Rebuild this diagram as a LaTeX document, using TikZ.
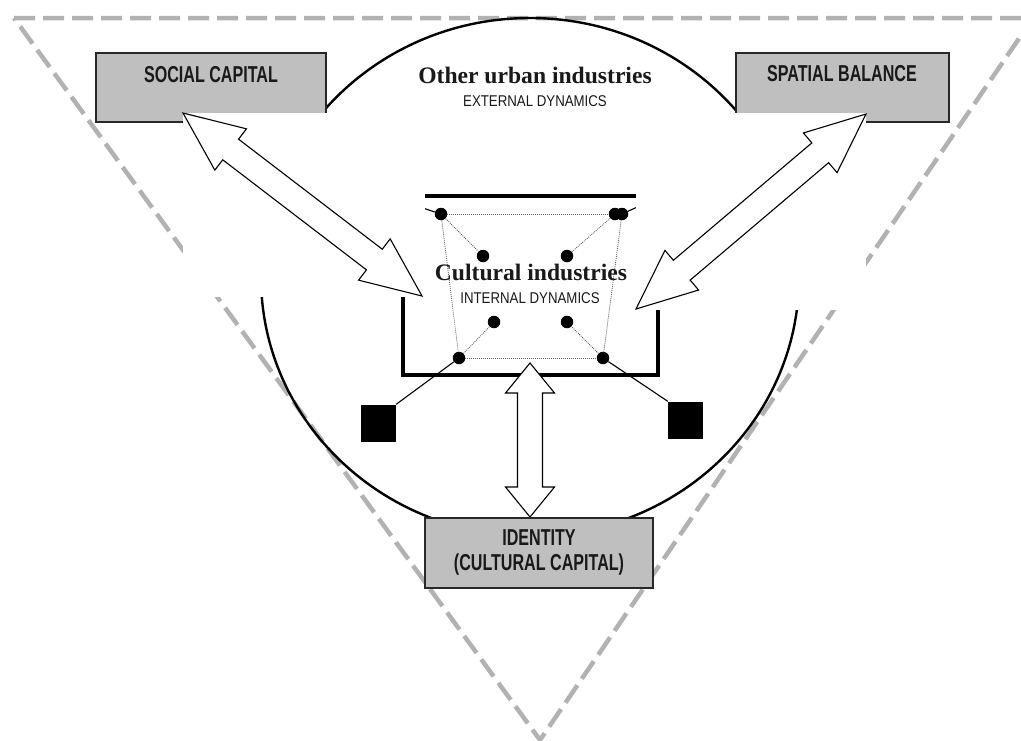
\documentclass[tikz,border=0pt]{standalone}
\usepackage{fontspec}
\setmainfont{Liberation Serif}
\newfontfamily\labelfont[FakeStretch=0.70]{Liberation Sans}
\newfontfamily\dynfont[FakeStretch=0.85]{Liberation Sans}
\usetikzlibrary{calc}
\definecolor{triGray}{RGB}{178,178,178}
\definecolor{boxGray}{RGB}{191,191,191}
\definecolor{boxBorder}{RGB}{40,40,40}
\definecolor{dotGray}{RGB}{95,95,95}
\definecolor{textDark}{RGB}{25,25,25}
\newcommand\blockarrow[5]{%
  \draw[blockarrow]
    (#1)
    -- ($(#1)!#3!(#2)!#4!90:(#2)$)
    -- ($(#1)!#3!(#2)!#5!90:(#2)$)
    -- ($(#2)!#3!(#1)!#5!-90:(#1)$)
    -- ($(#2)!#3!(#1)!#4!-90:(#1)$)
    -- (#2)
    -- ($(#2)!#3!(#1)!#4!90:(#1)$)
    -- ($(#2)!#3!(#1)!#5!90:(#1)$)
    -- ($(#1)!#3!(#2)!#5!-90:(#2)$)
    -- ($(#1)!#3!(#2)!#4!-90:(#2)$)
    -- cycle;}
\begin{document}
\begin{tikzpicture}[x=1pt,y=-1pt,
  tri/.style={draw=triGray, line width=4.5pt, dash pattern=on 21pt off 8pt},
  urban/.style={draw=black, line width=2.4pt},
  graybox/.style={rectangle, draw=boxBorder, fill=boxGray, line width=1.2pt, inner sep=0pt},
  cibox/.style={rectangle, draw=black, line width=4pt, inner sep=0pt},
  cover/.style={fill=white, draw=none},
  dot/.style={circle, fill=black, inner sep=0pt, minimum size=12.5pt},
  sq/.style={rectangle, fill=black, inner sep=0pt},
  link/.style={draw=dotGray, line width=0.8pt, dash pattern=on 1pt off 1pt},
  tie/.style={draw=black, line width=1.1pt},
  blockarrow/.style={draw=black, fill=white, line width=1.1pt, line join=miter},
  boxlabel/.style={font=\labelfont\bfseries\fontsize{23}{27}\selectfont, text=textDark, inner sep=0pt, anchor=base},
  dynlabel/.style={font=\dynfont\fontsize{15.6}{18}\selectfont, text=textDark, inner sep=0pt, anchor=base},
  seriflabel/.style={font=\bfseries\fontsize{23.6}{28}\selectfont, text=textDark, inner sep=0pt, anchor=base}]
\useasboundingbox (0,0) rectangle (1021,740);
% dashed triangle
\draw[tri] (14,18) -- (1033,18) -- (540,740) -- cycle;
% outer circle (other urban industries)
\draw[urban] (530,277) ellipse [x radius=269, y radius=259];
% central frame
\node[cibox, minimum width=255pt, minimum height=179pt] (ci) at (530.5,285.5) {};
% dots
\node[dot] (d1) at (441,214) {};
\node[dot] (d2a) at (615,214) {};
\node[dot] (d2b) at (622,214) {};
\node[dot] (d3) at (483,256) {};
\node[dot] (d4) at (567,256) {};
\node[dot] (d5) at (494,322) {};
\node[dot] (d6) at (567,322) {};
\node[dot] (d7) at (459,358) {};
\node[dot] (d8) at (603,358) {};
% squares
\node[sq, minimum width=35pt, minimum height=37pt] (sqL) at (378.5,423) {};
\node[sq, minimum width=35pt, minimum height=37pt] (sqR) at (685.5,420) {};
% dotted links
\draw[link] (d1) -- (d2a);
\draw[link] (d7) -- (d8);
\draw[link] (d1) -- (d7);
\draw[link] (d2b) -- (d8);
\draw[link] (d1) -- (d3);
\draw[link] (d2a) -- (d4);
\draw[link] (d7) -- (d5);
\draw[link] (d8) -- (d6);
% ties
\draw[tie] (d7) -- (sqL.north east);
\draw[tie] (d8) -- (sqR.north west);
\coordinate (tlOut) at (405,202);
\coordinate (trOut) at (655,199);
\draw[tie] (d1) -- (tlOut);
\draw[tie] (d2b) -- (trOut);
% top boxes
\node[graybox, minimum width=230pt, minimum height=69pt] (sc) at (211,87.5) {};
\node[graybox, minimum width=213pt, minimum height=69pt] (sb) at (842.5,87.5) {};
% white areas behind the diagonal arrows
\fill[cover] (183,113) rectangle (425,297);
\fill[cover] (636,113) rectangle (866,310);
% arrows
\coordinate (a1s) at (183,113);
\coordinate (a1e) at (422,296);
\coordinate (a2s) at (866,114);
\coordinate (a2e) at (636,309);
\coordinate (a3s) at (530,363);
\coordinate (a3e) at (530,517);
\blockarrow{a1s}{a1e}{60pt}{26pt}{13pt}
\blockarrow{a2s}{a2e}{60pt}{26pt}{13pt}
\blockarrow{a3s}{a3e}{30pt}{24.5pt}{12.5pt}
% bottom box
\node[graybox, minimum width=228pt, minimum height=70pt] (id) at (539,553) {};
% labels
\node[boxlabel] (scl) at (211,82) {SOCIAL CAPITAL};
\node[boxlabel] (sbl) at (842,81) {SPATIAL BALANCE};
\node[boxlabel] (idl1) at (539,545) {IDENTITY};
\node[boxlabel] (idl2) at (539,570) {(CULTURAL CAPITAL)};
\node[seriflabel] (oui) at (535,83) {Other urban industries};
\node[dynlabel] (ext) at (535,106) {EXTERNAL DYNAMICS};
\node[seriflabel] (cul) at (531,280) {Cultural industries};
\node[dynlabel] (int) at (530,303) {INTERNAL DYNAMICS};
\end{tikzpicture}
\end{document}
